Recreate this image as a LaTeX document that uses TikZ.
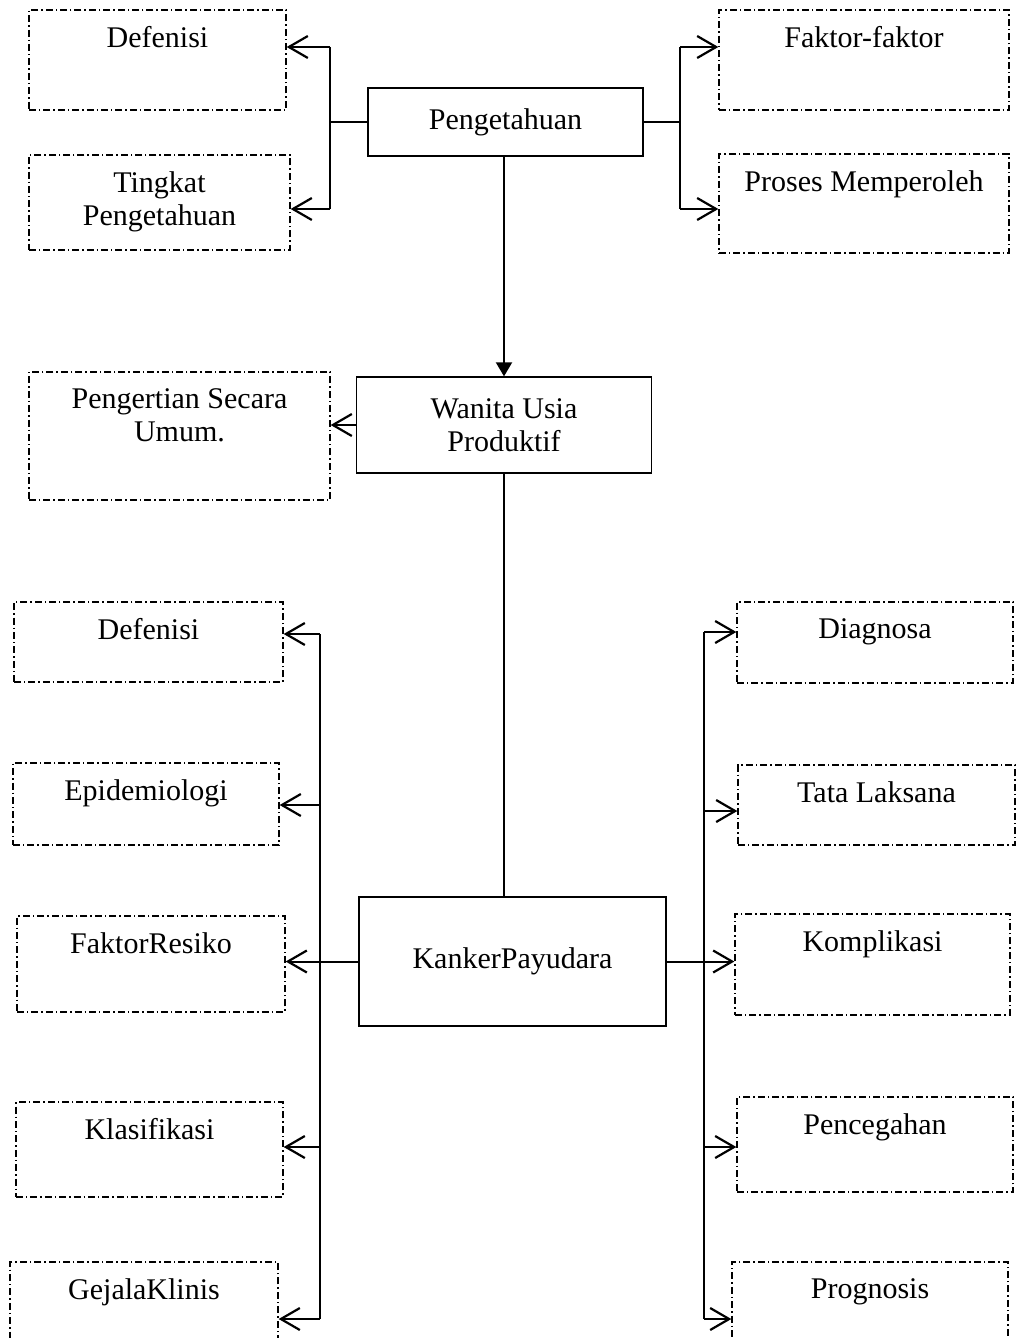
\documentclass[tikz,border=0pt]{standalone}
\usepackage{fontspec}
\setmainfont{Liberation Serif}
\usepackage{tikz}
\usetikzlibrary{arrows.meta,calc}

\begin{document}
\begin{tikzpicture}[x=0.5pt, y=-0.5pt,
    every node/.append style={font=\fontsize{15}{16.5}\selectfont},
    sz/.style 2 args={minimum width=#1*0.5pt, minimum height=#2*0.5pt},
    mainbox/.style={draw, line width=0.65pt, inner sep=0pt, align=center},
    subbox/.style={draw, line width=0.65pt, inner sep=0pt,
                   dash pattern=on 3.5pt off 1.5pt on 0.7pt off 1.5pt},
    subtext/.style={anchor=north, inner sep=0pt, yshift=-8.5pt, align=center},
    conn/.style={line width=1pt},
    arr/.style={line width=1pt, -{Straight Barb[length=9.5pt, width=11pt, line width=1.1pt]}},
    fillarr/.style={line width=1pt, -{Triangle[length=7pt, width=8pt]}}
]
\useasboundingbox (0,0) rectangle (1017,1338);

%% Pengetahuan (top)
\node[mainbox, sz={275}{68}] (peng) at (505.5,122) {Pengetahuan};
\node[subbox, sz={257}{100}, label={[subtext]north:Defenisi}] (def1) at (157.5,60) {};
\node[subbox, sz={261}{95}, label={[subtext]north:Tingkat\\Pengetahuan}] (tingkat) at (159.5,202.5) {};
\node[subbox, sz={290}{100}, label={[subtext]north:Faktor-faktor}] (faktor) at (864,60) {};
\node[subbox, sz={290}{99}, label={[subtext]north:Proses Memperoleh}] (proses) at (864,203.5) {};

\coordinate (tl1) at (330,47);
\coordinate (tl2) at (330,209);
\coordinate (tr1) at (680,47);
\coordinate (tr2) at (680,209);
\draw[conn] (peng.west) -- (peng.west -| tl1);
\draw[conn] (tl1) -- (tl2);
\draw[arr] (tl1) -- (tl1 -| def1.east);
\draw[arr] (tl2) -- (tl2 -| tingkat.east);
\draw[conn] (peng.east) -- (peng.east -| tr1);
\draw[conn] (tr1) -- (tr2);
\draw[arr] (tr1) -- (tr1 -| faktor.west);
\draw[arr] (tr2) -- (tr2 -| proses.west);

%% Wanita Usia Produktif
\node[mainbox, sz={295}{96}] (wanita) at (504,425) {Wanita Usia\\Produktif};
\node[subbox, sz={301}{128}, label={[subtext]north:Pengertian Secara\\Umum.}] (pengertian) at (179.5,436) {};
\draw[fillarr] (peng.south -| wanita.north) -- (wanita.north);
\draw[arr] (wanita.west) -- (wanita.west -| pengertian.east);

%% Kanker Payudara
\node[mainbox, sz={307}{129}] (kanker) at (512.5,961.5) {KankerPayudara};
\draw[conn] (wanita.south) -- (wanita.south |- kanker.north);

%% left group
\node[subbox, sz={269}{80}, label={[subtext]north:Defenisi}] (def2) at (148.5,642) {};
\node[subbox, sz={266}{82}, label={[subtext]north:Epidemiologi}] (epid) at (146,804) {};
\node[subbox, sz={268}{96}, label={[subtext]north:FaktorResiko}] (resiko) at (151,964) {};
\node[subbox, sz={267}{95}, label={[subtext]north:Klasifikasi}] (klas) at (149.5,1149.5) {};
\node[subbox, sz={268}{100}, label={[subtext]north:GejalaKlinis}] (gejala) at (144,1312) {};

%% right group
\node[subbox, sz={276}{81}, label={[subtext]north:Diagnosa}] (diag) at (875,642.5) {};
\node[subbox, sz={277}{80}, label={[subtext]north:Tata Laksana}] (tata) at (876.5,805) {};
\node[subbox, sz={275}{101}, label={[subtext]north:Komplikasi}] (kompl) at (872.5,964.5) {};
\node[subbox, sz={276}{95}, label={[subtext]north:Pencegahan}] (cegah) at (875,1144.5) {};
\node[subbox, sz={276}{100}, label={[subtext]north:Prognosis}] (prog) at (870,1312) {};

\foreach \i/\y in {1/634, 2/805, 4/1147, 5/1319}
    \coordinate (bl\i) at (320,\y);
\foreach \i/\y in {1/632, 2/811, 4/1147, 5/1319}
    \coordinate (br\i) at (704,\y);

\draw[conn] (bl1) -- (bl5);
\draw[conn] (br1) -- (br5);
\foreach \i/\b in {1/def2, 2/epid, 4/klas, 5/gejala}
    \draw[arr] (bl\i) -- (bl\i -| \b.east);
\foreach \i/\b in {1/diag, 2/tata, 4/cegah, 5/prog}
    \draw[arr] (br\i) -- (br\i -| \b.west);
\draw[arr] (kanker.west) -- (kanker.west -| resiko.east);
\draw[arr] (kanker.east) -- (kanker.east -| kompl.west);

\end{tikzpicture}
\end{document}
